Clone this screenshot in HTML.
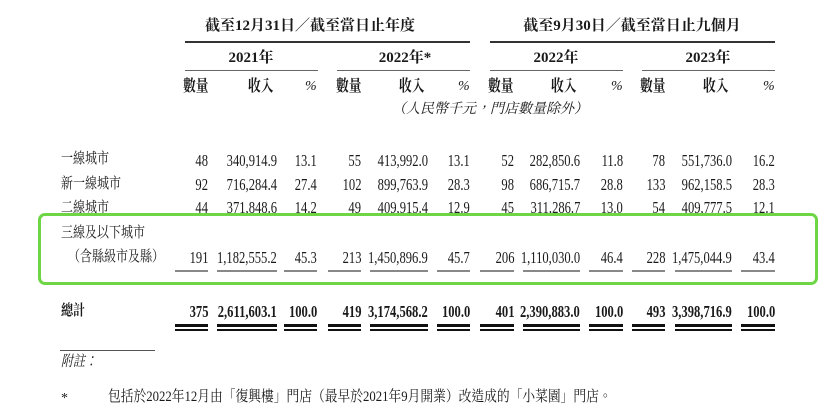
<!DOCTYPE html>
<html><head><meta charset="utf-8"><style>
body{margin:0;width:832px;height:418px;background:#fff;overflow:hidden;position:relative;font-family:"Liberation Serif","Noto Serif CJK SC",serif;color:#1a1a1a}
.t{position:absolute;white-space:nowrap;line-height:1}
.n{position:absolute;white-space:nowrap;font-size:17px;line-height:1;transform:scaleX(0.74);transform-origin:right center;text-align:right}
.c{position:absolute;white-space:nowrap;line-height:1;transform:translateX(-50%)}
.l{position:absolute;background:#333}
.cj{font-family:"Liberation Serif","Noto Serif CJK TC",serif;font-size:15px;transform:scaleX(0.8);transform-origin:left center}
</style></head><body>
<div class="c" style="left:310px;top:19px;font-size:15px;font-weight:bold;font-family:'Liberation Serif','Noto Serif CJK TC',serif">截至12月31日／截至當日止年度</div>
<div class="c" style="left:632px;top:19px;font-size:15px;font-weight:bold;font-family:'Liberation Serif','Noto Serif CJK TC',serif">截至9月30日／截至當日止九個月</div>
<div class="l" style="left:185px;top:41px;width:285px;height:1.5px"></div>
<div class="l" style="left:490px;top:41px;width:285px;height:1.5px"></div>
<div class="c" style="left:251px;top:51px;font-size:15px;font-weight:bold;font-family:'Liberation Serif','Noto Serif CJK TC',serif">2021年</div>
<div class="c" style="left:405px;top:51px;font-size:15px;font-weight:bold;font-family:'Liberation Serif','Noto Serif CJK TC',serif">2022年*</div>
<div class="c" style="left:556px;top:51px;font-size:15px;font-weight:bold;font-family:'Liberation Serif','Noto Serif CJK TC',serif">2022年</div>
<div class="c" style="left:708px;top:51px;font-size:15px;font-weight:bold;font-family:'Liberation Serif','Noto Serif CJK TC',serif">2023年</div>
<div class="l" style="left:185px;top:70px;width:133px;height:1px;background:#666"></div>
<div class="l" style="left:337px;top:70px;width:133px;height:1px;background:#666"></div>
<div class="l" style="left:490px;top:70px;width:133px;height:1px;background:#666"></div>
<div class="l" style="left:642px;top:70px;width:133px;height:1px;background:#666"></div>
<div class="c" style="left:490px;top:103px;font-size:14px;font-style:italic;font-family:'Liberation Serif','Noto Serif CJK TC',serif">（人民幣千元，門店數量除外）</div>
<div id="g" style="position:absolute;left:0;top:0;width:832px;height:418px"></div>
<div class="t cj" style="left:61px;top:152px">一線城市</div>
<div class="t cj" style="left:61px;top:177px">新一線城市</div>
<div class="t cj" style="left:61px;top:201px">二線城市</div>
<div style="position:absolute;left:38px;top:213px;width:774px;height:66px;border:3px solid #6ed645;border-radius:7px;background:#fff;z-index:2"></div>
<div style="position:absolute;left:0;top:0;width:832px;height:418px;z-index:3" id="g2"></div>
<div class="t cj" style="left:61px;top:226px;z-index:3">三線及以下城市</div>
<div class="t cj" style="left:68px;top:250px;z-index:3">（含縣級市及縣）</div>
<div class="t cj" style="left:61px;top:304px;font-weight:bold">總計</div>
<div class="l" style="left:60px;top:350px;width:95px;height:1px;background:#555"></div>
<div class="t cj" style="left:61px;top:355px;font-style:italic">附註：</div>
<div class="t" style="left:61px;top:392px;font-size:14px">*</div>
<div class="t cj" style="left:108px;top:390px;transform:scaleX(0.85)">包括於2022年12月由「復興樓」門店（最早於2021年9月開業）改造成的「小菜園」門店。</div>
<script>
var R=[208,277,317,361,428,470,514,580,623,665,732,775];
var L=[175,217,284,328,370,437,480,523,589,632,675,741];
var rows=[
[161,["48","340,914.9","13.1","55","413,992.0","13.1","52","282,850.6","11.8","78","551,736.0","16.2"],0],
[185,["92","716,284.4","27.4","102","899,763.9","28.3","98","686,715.7","28.8","133","962,158.5","28.3"],0],
[208,["44","371,848.6","14.2","49","409,915.4","12.9","45","311,286.7","13.0","54","409,777.5","12.1"],0],
[258,["191","1,182,555.2","45.3","213","1,450,896.9","45.7","206","1,110,030.0","46.4","228","1,475,044.9","43.4"],1],
[312,["375","2,611,603.1","100.0","419","3,174,568.2","100.0","401","2,390,883.0","100.0","493","3,398,716.9","100.0"],2]];
var h="",h2="";
for(var i=0;i<12;i++){
 var k=i%3;
 if(k==0) h+='<div class="t cj" style="left:'+(L[i]+8)+'px;top:79px;font-size:16px;font-weight:bold">數量</div>';
 else if(k==1) h+='<div class="t cj" style="left:'+(R[i]-29)+'px;top:79px;font-size:16px;font-weight:bold">收入</div>';
 else h+='<div class="t" style="left:'+(R[i]-12)+'px;top:80px;font-size:14px;font-style:italic">%</div>';
}
rows.forEach(function(r){
 for(var i=0;i<12;i++){
  var s='<div class="n" style="right:'+(832-R[i])+'px;top:'+(r[0]-9)+'px;'+(r[2]==2?'font-weight:bold;':'')+'">'+r[1][i]+'</div>';
  if(r[2]==1){h2+=s;h2+='<div class="l" style="left:'+L[i]+'px;top:270px;width:'+(R[i]-L[i])+'px;height:1.5px;background:#888"></div>';}
  else h+=s;
  if(r[2]==2){h+='<div class="l" style="left:'+L[i]+'px;top:324px;width:'+(R[i]-L[i])+'px;height:2.5px;background:#111"></div><div class="l" style="left:'+L[i]+'px;top:329px;width:'+(R[i]-L[i])+'px;height:2px;background:#111"></div>';}
 }
});
document.getElementById('g').innerHTML=h;
document.getElementById('g2').innerHTML=h2;
</script>
</body></html>
